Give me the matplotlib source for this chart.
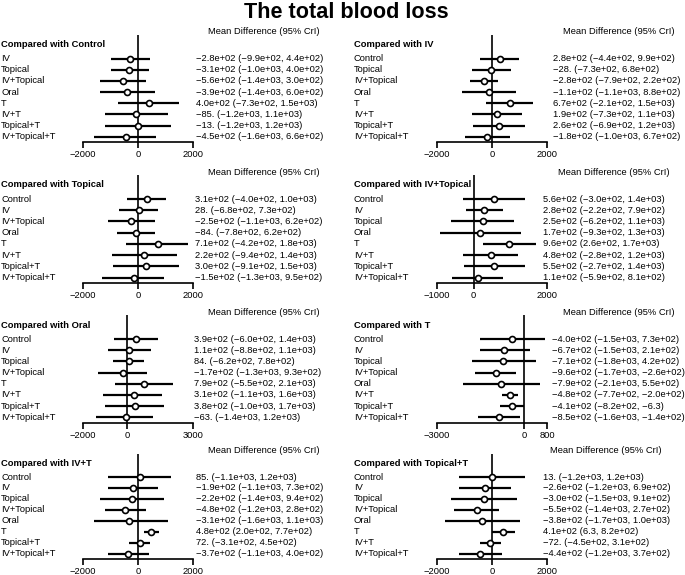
import matplotlib
matplotlib.use("Agg")
import matplotlib.pyplot as plt
import matplotlib.transforms as mtransforms

plt.rcParams['font.family'] = ['Liberation Sans', 'DejaVu Sans']

W, H = 685, 575

title = "The total blood loss"
header = "Mean Difference (95% CrI)"

# ---------------- data ----------------
ref_control = "Control"
rows_control = ["IV", "Topical", "IV+Topical", "Oral", "T", "IV+T", "Topical+T", "IV+Topical+T"]
mean_control = [-280, -310, -560, -390, 400, -85, -13, -450]
low_control = [-990, -1000, -1400, -1400, -730, -1200, -1200, -1600]
high_control = [440, 400, 300, 600, 1500, 1100, 1200, 660]
ticks_control = [-2000, 0, 2000]

ref_iv = "IV"
rows_iv = ["Control", "Topical", "IV+Topical", "Oral", "T", "IV+T", "Topical+T", "IV+Topical+T"]
mean_iv = [280, -28, -280, -110, 670, 190, 260, -180]
low_iv = [-440, -730, -790, -1100, -210, -730, -690, -1000]
high_iv = [990, 680, 220, 880, 1500, 1100, 1200, 670]
ticks_iv = [-2000, 0, 2000]

ref_topical = "Topical"
rows_topical = ["Control", "IV", "IV+Topical", "Oral", "T", "IV+T", "Topical+T", "IV+Topical+T"]
mean_topical = [310, 28, -250, -84, 710, 220, 300, -150]
low_topical = [-400, -680, -1100, -780, -420, -940, -910, -1300]
high_topical = [1000, 730, 620, 620, 1800, 1400, 1500, 950]
ticks_topical = [-2000, 0, 2000]

ref_ivtop = "IV+Topical"
rows_ivtop = ["Control", "IV", "Topical", "Oral", "T", "IV+T", "Topical+T", "IV+Topical+T"]
mean_ivtop = [560, 280, 250, 170, 960, 480, 550, 110]
low_ivtop = [-300, -220, -620, -930, 260, -280, -270, -590]
high_ivtop = [1400, 790, 1100, 1300, 1700, 1200, 1400, 810]
ticks_ivtop = [-1000, 0, 2000]

ref_oral = "Oral"
rows_oral = ["Control", "IV", "Topical", "IV+Topical", "T", "IV+T", "Topical+T", "IV+Topical+T"]
mean_oral = [390, 110, 84, -170, 790, 310, 380, -63]
low_oral = [-600, -880, -620, -1300, -550, -1100, -1000, -1400]
high_oral = [1400, 1100, 780, 930, 2100, 1600, 1700, 1200]
ticks_oral = [-2000, 0, 3000]

ref_t = "T"
rows_t = ["Control", "IV", "Topical", "IV+Topical", "Oral", "IV+T", "Topical+T", "IV+Topical+T"]
mean_t = [-400, -670, -710, -960, -790, -480, -410, -850]
low_t = [-1500, -1500, -1800, -1700, -2100, -770, -820, -1600]
high_t = [730, 210, 420, -260, 550, -200, -6.3, -140]
ticks_t = [-3000, 0, 800]

ref_ivt = "IV+T"
rows_ivt = ["Control", "IV", "Topical", "IV+Topical", "Oral", "T", "Topical+T", "IV+Topical+T"]
mean_ivt = [85, -190, -220, -480, -310, 480, 72, -370]
low_ivt = [-1100, -1100, -1400, -1200, -1600, 200, -310, -1100]
high_ivt = [1200, 730, 940, 280, 1100, 770, 450, 400]
ticks_ivt = [-2000, 0, 2000]

ref_topt = "Topical+T"
rows_topt = ["Control", "IV", "Topical", "IV+Topical", "Oral", "T", "IV+T", "IV+Topical+T"]
mean_topt = [13, -260, -300, -550, -380, 410, -72, -440]
low_topt = [-1200, -1200, -1500, -1400, -1700, 6.3, -450, -1200]
high_topt = [1200, 690, 910, 270, 1000, 820, 310, 370]
ticks_topt = [-2000, 0, 2000]


def fmt(v):
    a = abs(v)
    if a >= 100:
        s = "%.1e" % v
    elif a >= 10:
        s = "%d." % round(v)
    else:
        s = "%.1f" % v
    return s.replace("-", "\u2212")


panels = [
    (ref_control, rows_control, mean_control, low_control, high_control, ticks_control),
    (ref_iv, rows_iv, mean_iv, low_iv, high_iv, ticks_iv),
    (ref_topical, rows_topical, mean_topical, low_topical, high_topical, ticks_topical),
    (ref_ivtop, rows_ivtop, mean_ivtop, low_ivtop, high_ivtop, ticks_ivtop),
    (ref_oral, rows_oral, mean_oral, low_oral, high_oral, ticks_oral),
    (ref_t, rows_t, mean_t, low_t, high_t, ticks_t),
    (ref_ivt, rows_ivt, mean_ivt, low_ivt, high_ivt, ticks_ivt),
    (ref_topt, rows_topt, mean_topt, low_topt, high_topt, ticks_topt),
]

# ---------------- layout (pixels) ----------------
row_start = [58.5, 199.0, 339.0, 477.0]
row_step = [11.17, 11.22, 11.19, 10.95]
label_x = [1, 354]
axis_x = [(83, 193), (437, 547)]
text_x = [196.5, 553, 195, 543, 194.5, 551.5, 196.5, 543]
header_x = [208, 563, 208, 558, 208, 563, 208, 550]

FS = 6.75
fig = plt.figure(figsize=(W / 100, H / 100), dpi=100)
fig.text(346 / W, 1 - 12 / H, title, ha='center', va='center',
         fontsize=15.6, fontweight='bold')

for i, (ref, rows, m, lo, hi, ticks) in enumerate(panels):
    r, c = divmod(i, 2)
    y0 = row_start[r]
    st = row_step[r]
    top_px = y0 - 2.12 * st
    bot_px = y0 + 7.5 * st
    x0, x1 = axis_x[c]
    ax = fig.add_axes([x0 / W, 1 - bot_px / H, (x1 - x0) / W, (bot_px - top_px) / H])
    ax.set_xlim(ticks[0], ticks[-1])
    ax.set_ylim(7.5, -2.12)
    ax.patch.set_alpha(0)
    for s in ['top', 'left', 'right']:
        ax.spines[s].set_visible(False)
    ax.spines['bottom'].set_linewidth(1.2)
    ax.set_yticks([])
    ax.set_xticks(ticks)
    ax.set_xticklabels([("%d" % t).replace("-", "\u2212") for t in ticks])
    ax.tick_params(axis='x', direction='out', length=4.5, width=1.2, pad=1.2, labelsize=FS)
    ax.axvline(0, color='black', lw=1.2, zorder=1)
    ys = list(range(len(rows)))
    ax.hlines(ys, lo, hi, color='black', lw=1.6, zorder=2, clip_on=False)
    ax.plot(m, ys, 'o', ms=4.3, mfc='white', mec='black', mew=1.2, zorder=3, clip_on=False)

    tr = mtransforms.blended_transform_factory(fig.transFigure, ax.transData)
    lx = label_x[c] / W
    ax.text(lx, -1.25, "Compared with " + ref, transform=tr, fontsize=FS,
            fontweight='bold', ha='left', va='center')
    ax.text(header_x[i] / W, -2.4, header, transform=tr, fontsize=FS,
            ha='left', va='center')
    for k, name in enumerate(rows):
        ax.text(lx, k, name, transform=tr, fontsize=FS, ha='left', va='center')
        s = "%s (%s, %s)" % (fmt(m[k]), fmt(lo[k]), fmt(hi[k]))
        ax.text(text_x[i] / W, k, s, transform=tr, fontsize=FS, ha='left', va='center')

fig.savefig("out.png", dpi=100)
